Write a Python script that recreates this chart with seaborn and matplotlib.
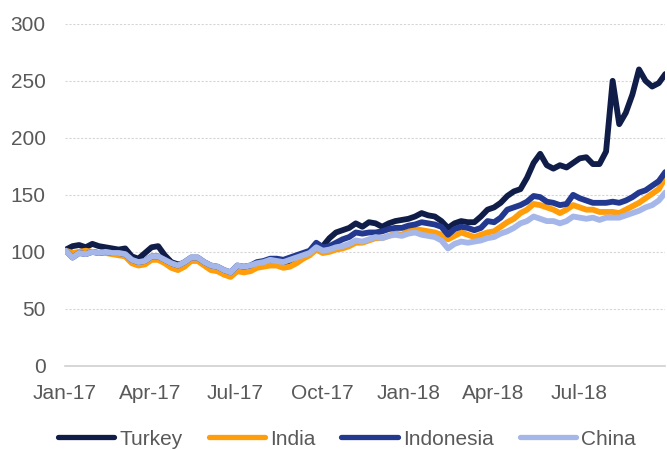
#!/usr/bin/env python3
# ─────────────────────────────────────────────
#  EM equity indices, rebased (Jan-17 = 100)
# ─────────────────────────────────────────────

import numpy as np
import pandas as pd
import matplotlib
matplotlib.use("Agg")
import matplotlib.pyplot as plt
import seaborn as sns

# ── Data (weekly) ──────────────────────────────
dates = pd.date_range("2017-01-02", "2018-10-01", freq="7D")

turkey = [102, 105, 106, 104, 107, 105, 104, 103, 102, 103,
          96, 94, 99, 104, 105, 97, 91, 89, 90, 94,
          94, 90, 87, 86, 83, 81, 87, 86, 87, 89,
          90, 92, 91, 90, 92, 95, 97, 100, 106, 105,
          112, 117, 119, 121, 125, 122, 126, 125, 122, 125,
          127, 128, 129, 131, 134, 132, 131, 127, 121, 125,
          127, 126, 126, 131, 137, 139, 143, 149, 153, 155,
          165, 178, 186, 176, 173, 176, 174, 178, 182, 183,
          177, 177, 188, 250, 212, 222, 238, 260, 250, 245,
          248, 256]

india = [101, 99, 100, 101, 100, 99, 99, 98, 97, 96,
         90, 88, 89, 93, 93, 90, 86, 84, 87, 92,
         92, 88, 84, 83, 80, 78, 83, 82, 83, 86,
         87, 88, 88, 86, 87, 90, 94, 97, 102, 99,
         100, 102, 103, 105, 108, 108, 110, 112, 112, 114,
         116, 115, 118, 120, 119, 118, 117, 115, 111, 114,
         117, 115, 113, 115, 117, 118, 122, 126, 129, 134,
         137, 142, 141, 139, 137, 134, 137, 141, 139, 137,
         137, 135, 135, 135, 134, 137, 140, 143, 147, 151,
         155, 165]

indonesia = [101, 95, 99, 98, 100, 99, 100, 99, 99, 98,
             93, 91, 92, 96, 96, 93, 90, 88, 91, 95,
             95, 91, 88, 87, 84, 82, 88, 87, 88, 91,
             92, 94, 94, 93, 95, 97, 99, 101, 108, 104,
             105, 108, 111, 113, 117, 116, 117, 117, 118, 120,
             121, 121, 123, 124, 126, 125, 124, 122, 115, 120,
             122, 121, 119, 121, 127, 126, 130, 137, 139, 141,
             144, 149, 148, 144, 143, 141, 142, 150, 147, 145,
             143, 143, 143, 144, 143, 145, 148, 152, 154, 158,
             162, 170]

china = [101, 95, 99, 98, 100, 99, 100, 99, 99, 98,
         93, 91, 92, 96, 96, 93, 90, 88, 91, 95,
         95, 91, 88, 87, 84, 82, 88, 87, 88, 90,
         91, 93, 92, 91, 93, 95, 97, 99, 104, 101,
         102, 104, 105, 107, 110, 109, 111, 113, 112, 114,
         115, 114, 116, 117, 115, 114, 113, 110, 103, 107,
         109, 108, 109, 110, 112, 113, 116, 118, 121, 125,
         127, 131, 129, 127, 127, 125, 127, 131, 130, 129,
         130, 128, 130, 130, 130, 132, 134, 136, 139, 141,
         145, 152]

series = ["Turkey", "India", "Indonesia", "China"]
colors = ["#101d48", "#ff9e0a", "#22398f", "#a5b6e8"]

tick_dates = pd.date_range("2017-01-01", "2018-10-01", freq="QS")

# ── Plot ───────────────────────────────────────
df = pd.DataFrame({"date": dates, "Turkey": turkey, "India": india,
                   "Indonesia": indonesia, "China": china})
long = df.melt(id_vars="date", var_name="country", value_name="value")

sns.set_style("white")
plt.rcParams["font.family"] = ["Liberation Sans", "DejaVu Sans"]

fig = plt.figure(figsize=(6.67, 4.5), dpi=100)
ax = fig.add_axes([0.0975, 0.187, 0.9, 0.76])

sns.lineplot(data=long, x="date", y="value", hue="country",
             hue_order=series, palette=colors, linewidth=4.2,
             ax=ax, legend=False)

ax.set_ylim(0, 300)
ax.set_yticks(np.arange(0, 301, 50))
ax.set_xlim(pd.Timestamp("2017-01-01"), pd.Timestamp("2018-10-01"))
ax.set_xticks(tick_dates)
ax.set_xticklabels([d.strftime("%b-%y") if i < len(tick_dates) - 1 else ""
                    for i, d in enumerate(tick_dates)])

ax.yaxis.grid(True, color="#d6d6d6", linewidth=0.8, linestyle=(0, (2, 1.5)))
ax.set_axisbelow(True)
for side in ["top", "right", "left"]:
    ax.spines[side].set_visible(False)
ax.spines["bottom"].set_color("#d0d0d0")
ax.spines["bottom"].set_linewidth(1.2)

ax.tick_params(axis="y", length=0, pad=14, labelsize=15, labelcolor="#595959")
ax.tick_params(axis="x", length=5, width=1.2, color="#d0d0d0", direction="out",
               pad=8, labelsize=15, labelcolor="#595959")
ax.set_xlabel("")
ax.set_ylabel("")

handles = [plt.Line2D([], [], color=c, linewidth=3.8) for c in colors]
fig.legend(handles, series, loc="center", bbox_to_anchor=(0.52, 0.024),
           ncol=4, frameon=False, fontsize=15, handlelength=2.7,
           handletextpad=0.25, columnspacing=1.25, labelcolor="#595959")

fig.savefig("out.png", dpi=100)
